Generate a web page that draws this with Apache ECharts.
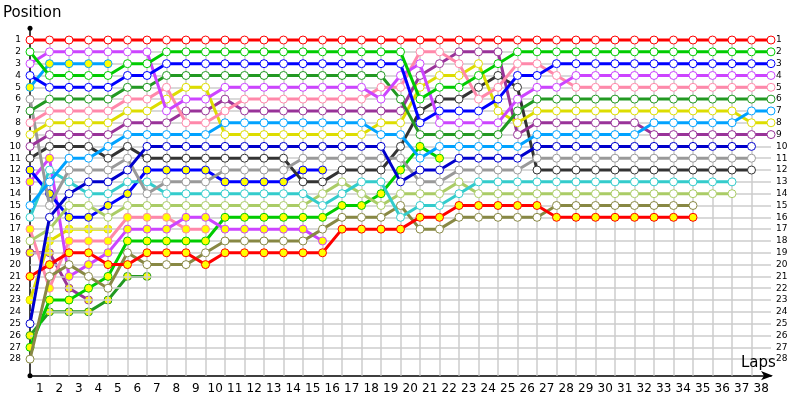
<!DOCTYPE html>
<html>
<head>
<meta charset="utf-8">
<script src="https://cdn.jsdelivr.net/npm/echarts@6/dist/echarts.min.js"></script>
<style>
  html, body { margin: 0; padding: 0; background: #fff; }
  #chart { width: 800px; height: 400px; }
</style>
</head>
<body>
<div id="chart"></div>
<script>
  // lap tick labels (bands between laps)
  const lapLabels = Array.from({length: 38}, (_, i) => String(i + 1));

  // position per lap, index = lap (0 = grid)
  const red1 = [1,1,1,1,1,1,1,1,1,1, 1,1,1,1,1,1,1,1,1,1, 1,1,1,1,1,1,1,1,1,1, 1,1,1,1,1,1,1,1,1];
  const green1 = [2,4,4,4,4,3,3,2,2,2, 2,2,2,2,2,2,2,2,2,2, 6,5,5,4,3,2,2,2,2,2, 2,2,2,2,2,2,2,2,2];
  const blue1 = [4,5,5,5,5,4,4,3,3,3, 3,3,3,3,3,3,3,3,3,3, 8,7,7,7,6,4,4,3,3,3, 3,3,3,3,3,3,3,3,3];
  const purple1 = [3,2,2,2,2,2,2,7,6,6, 5,5,5,5,5,5,5,5,6,4, 3,8,8,8,8,6,5,5,4,4, 4,4,4,4,4,4,4,4,4];
  const pink1 = [8,7,7,7,7,6,6,5,8,8, 7,6,6,6,6,6,6,6,5,5, 2,2,3,6,5,3,3,4,5,5, 5,5,5,5,5,5,5,5,5];
  const dkgreen1 = [7,6,6,6,6,5,5,4,4,4, 4,4,4,4,4,4,4,4,4,6, 9,9,9,9,9,7,6,6,6,6, 6,6,6,6,6,6,6,6,6];
  const sky1 = [15,13,11,11,10,9,9,9,9,9, 8,8,8,8,8,8,8,8,9,9, 11,10,10,10,10,10,9,9,9,9, 9,9,8,8,8,8,8,7,7];
  const yellow1 = [9,8,8,8,8,7,7,6,5,5, 9,9,9,9,9,9,9,9,8,8, 5,4,4,3,7,8,7,7,7,7, 7,7,7,7,7,7,7,8,8];
  const dkpurple1 = [10,9,9,9,9,8,8,8,7,7, 6,7,7,7,7,7,7,7,7,7, 4,3,2,2,2,9,8,8,8,8, 8,8,9,9,9,9,9,9,9];
  const navy1 = [25,16,14,13,13,12,10,10,10,10, 10,10,10,10,10,10,10,10,10,13, 12,12,11,11,11,11,10,10,10,10, 10,10,10,10,10,10,10,10];
  const grey1 = [6,15,12,12,12,11,14,13,13,13, 12,12,12,12,11,11,11,11,11,11, 13,13,12,12,12,12,11,11,11,11, 11,11,11,11,11,11,11,11];
  const dkgrey1 = [11,10,10,10,11,10,11,11,11,11, 11,11,11,11,13,13,12,12,12,10, 7,6,6,5,4,5,12,12,12,12, 12,12,12,12,12,12,12,12];
  const cyan1 = [16,12,13,14,14,13,13,14,14,14, 14,14,14,14,14,15,14,13,13,16, 15,15,14,13,13,13,13,13,13,13, 13,13,13,13,13,13,13];
  const lolive1 = [18,17,15,15,16,15,15,15,15,15, 15,15,15,15,15,14,13,14,15,14, 14,14,13,14,14,14,14,14,14,14, 14,14,14,14,14,14,14];
  const olive1 = [28,21,20,21,22,19,20,20,20,19, 18,18,18,18,18,17,16,16,16,15, 17,17,16,16,16,16,16,15,15,15, 15,15,15,15,15];
  const red2 = [21,20,19,19,20,20,19,19,19,20, 19,19,19,19,19,19,17,17,17,17, 16,16,15,15,15,15,15,16,16,16, 16,16,16,16,16];
  const sky2 = [5,3,3,3,3];
  const blue2 = [12,14,16,16,15,14,12,12,12,12, 13,13,13,13,12,12];
  const purple2 = [13,11,21,20,19,17,17,17,16,16, 17,17,17,17,17,18];
  const green2 = [27,23,23,22,21,18,18,18,18,18, 16,16,16,16,16,16,15,15,14,12, 10,11];
  const yellow2 = [23,18,17,17,17];
  const dkpurple2 = [19,19,22,23];
  const pink2 = [17,22,18,18,18,16,16,16,17,17];
  const dkgreen2 = [26,24,24,24,23,21,21];

  const WHITE = '#ffffff', YEL = '#ffff00';
  const drivers = [
    [dkgreen2, '#229922', YEL], [dkpurple2, '#993399', YEL], [yellow2, '#dddd00', YEL],
    [pink2, '#ff88aa', YEL], [sky2, '#00a2ff', YEL], [green2, '#00cc00', YEL],
    [purple2, '#cc44ff', YEL], [blue2, '#0000ff', YEL],
    [olive1, '#888844', WHITE], [red2, '#ff0000', YEL], [lolive1, '#aacc66', WHITE],
    [cyan1, '#33cccc', WHITE], [dkgrey1, '#333333', WHITE], [grey1, '#999999', WHITE],
    [navy1, '#0000cc', WHITE], [dkpurple1, '#993399', WHITE], [yellow1, '#dddd00', WHITE],
    [sky1, '#00a2ff', WHITE], [dkgreen1, '#229922', WHITE], [pink1, '#ff88aa', WHITE],
    [purple1, '#cc44ff', WHITE], [blue1, '#0000ff', WHITE], [green1, '#00cc00', WHITE],
    [red1, '#ff0000', WHITE]
  ];

  // grid lines drawn through the axes' own coordinates
  const gridLines = [];
  for (let p = 1; p <= 28; p++) gridLines.push([{coord: [0, p]}, {coord: [38, p]}]);
  for (let k = 1; k <= 37; k++) gridLines.push([{coord: [k, 1]}, {coord: [k, 29.4]}]);

  const series = [{
    type: 'line', data: [], silent: true, z: 1,
    markLine: {
      silent: true, symbol: ['none', 'none'], label: {show: false}, animation: false,
      lineStyle: {color: '#cccccc', width: 1.5, type: 'solid'},
      emphasis: {disabled: true},
      data: gridLines
    }
  }];
  drivers.forEach(function (d, i) {
    series.push({
      type: 'line',
      z: 2 + i,
      data: d[0].map((p, lap) => [lap, p]),
      symbol: 'circle',
      symbolSize: 8,
      lineStyle: {color: d[1], width: 3},
      itemStyle: {color: d[2], borderColor: d[1], borderWidth: 1},
      emphasis: {disabled: true}
    });
  });

  const posLabel = v => (v >= 1 && v <= 28 && Number.isInteger(v)) ? String(v) : '';
  const nameStyle = {fontSize: 15, fontWeight: 'normal', color: '#000', fontFamily: 'DejaVu Sans'};

  const myChart = echarts.init(document.getElementById('chart'));
  myChart.setOption({
    animation: false,
    textStyle: {fontFamily: 'DejaVu Sans'},
    title: [
      {text: 'Position', left: 3, top: 6, padding: 0, textStyle: nameStyle},
      {text: 'Laps', left: 741, top: 356, padding: 0, textStyle: nameStyle}
    ],
    grid: {left: 30, right: 29, top: 28.2, bottom: 24.3, containLabel: false, outerBoundsMode: 'none'},
    xAxis: [{
      type: 'value', min: 0, max: 38, interval: 1,
      axisLine: {show: true, onZero: false, lineStyle: {color: '#000', width: 1.5},
        symbol: ['none', 'arrow'], symbolSize: [7, 12], symbolOffset: [0, 2]},
      axisTick: {show: false}, axisLabel: {show: false}, splitLine: {show: false}
    }, {
      type: 'category', data: lapLabels, boundaryGap: true, position: 'bottom',
      axisLine: {show: false}, axisTick: {show: false}, splitLine: {show: false},
      axisLabel: {color: '#000', fontSize: 12, margin: 7, interval: 0}
    }],
    yAxis: [{
      type: 'value', inverse: true, min: 0, max: 29.4, interval: 1,
      axisLine: {show: true, onZero: false, lineStyle: {color: '#000', width: 1.5},
        symbol: ['circle', 'circle'], symbolSize: [5, 5]},
      axisTick: {show: false}, splitLine: {show: false},
      axisLabel: {formatter: posLabel, fontSize: 9, color: '#000', margin: 9}
    }, {
      type: 'value', inverse: true, min: 0, max: 29.4, interval: 1, position: 'right',
      axisLine: {show: false, onZero: false}, axisTick: {show: false}, splitLine: {show: false},
      axisLabel: {formatter: posLabel, fontSize: 9, color: '#000', margin: 5}
    }],
    series: series
  });
</script>
</body>
</html>
